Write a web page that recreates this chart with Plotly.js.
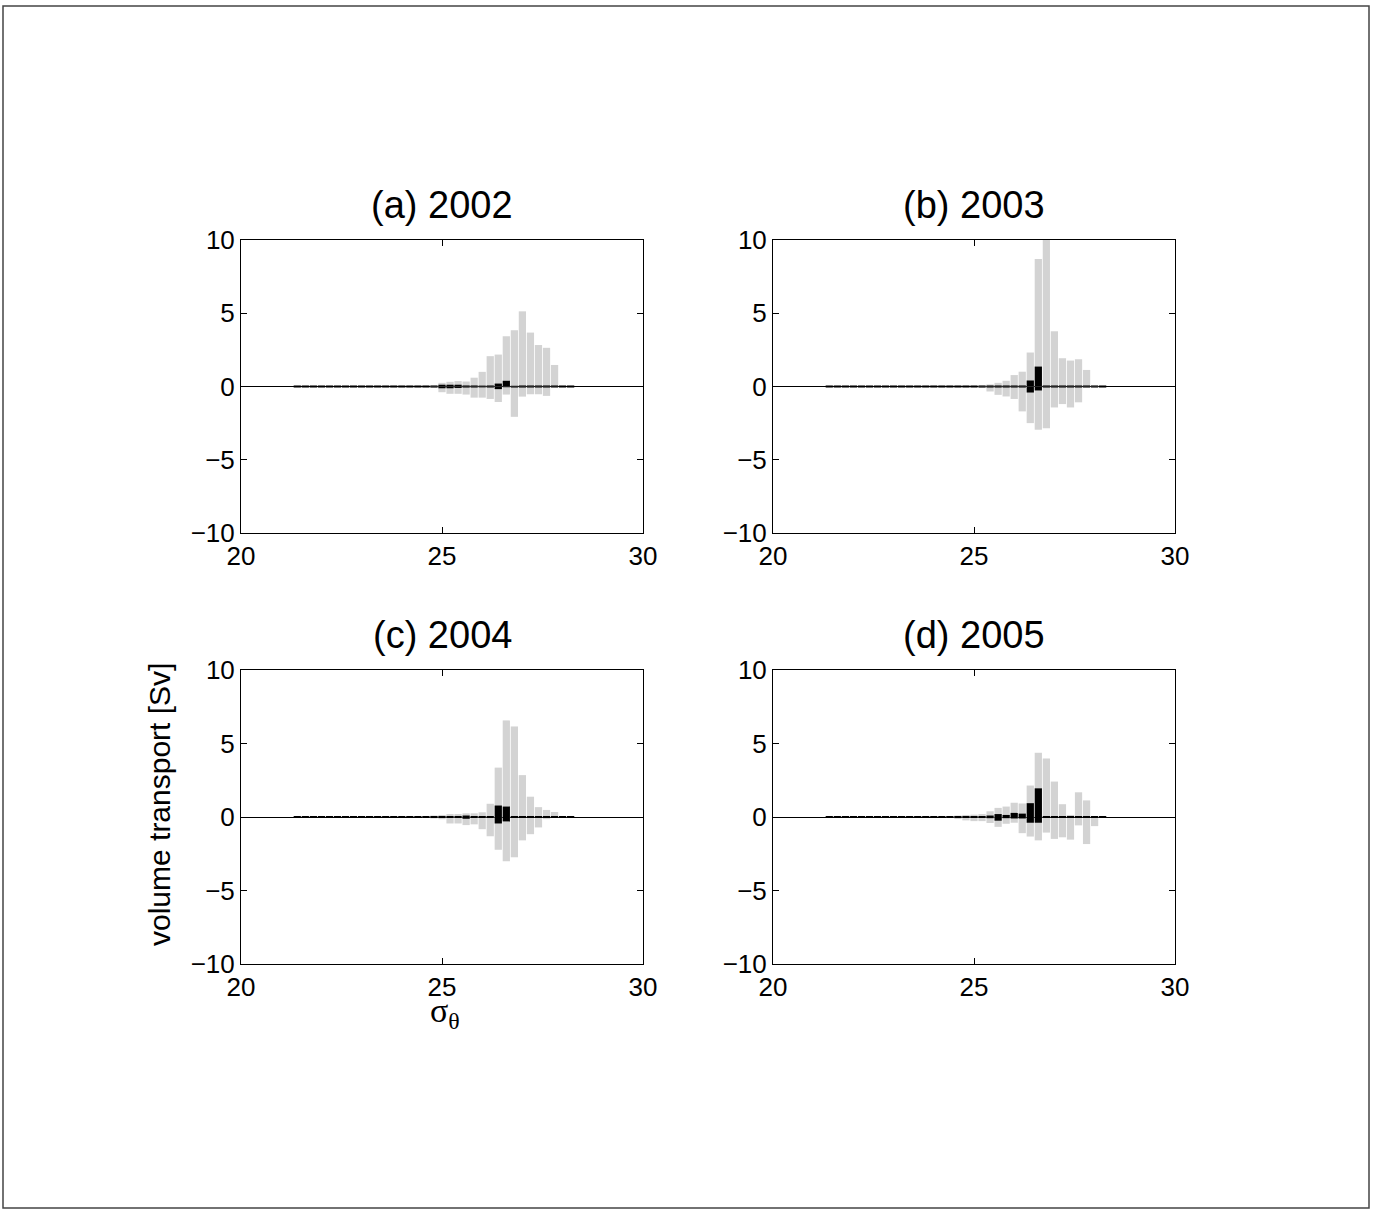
<!DOCTYPE html>
<html>
<head>
<meta charset="utf-8">
<script src="https://cdn.plot.ly/plotly-3.0.1.min.js"></script>
<style>html,body{margin:0;padding:0;background:#fff;}#chart{width:1373px;height:1211px;}</style>
</head>
<body>
<div id="chart"></div>
<script>
// density bins (sigma_theta), bin width 0.2
const sigmaBins = [21.4,21.6,21.8,22.0,22.2,22.4,22.6,22.8,23.0,23.2,23.4,23.6,23.8,24.0,24.2,24.4,24.6,24.8,25.0,25.2,25.4,25.6,25.8,26.0,26.2,26.4,26.6,26.8,27.0,27.2,27.4,27.6,27.8,28.0,28.2];

const panelTitles = ["(a) 2002","(b) 2003","(c) 2004","(d) 2005"];
const xTicks = [20,25,30];
const yTicks = [-10,-5,0,5,10];

// (a) 2002
const grayPos2002 = [0,0,0,0,0,0,0,0,0,0,0,0,0,0,0,0,0,0.05,0.25,0.32,0.37,0.34,0.6,1.0,2.07,2.18,3.43,3.84,5.13,3.68,2.83,2.64,1.47,0,0];
const grayNeg2002 = [0,0,0,0,0,0,0,0,0,0,0,0,0,0,0,0,0,-0.08,-0.39,-0.5,-0.5,-0.55,-0.76,-0.76,-0.85,-1.06,-0.55,-2.07,-0.69,-0.53,-0.53,-0.64,0,0,0];
const blackPos2002 = [0.07,0.07,0.07,0.07,0.07,0.07,0.07,0.07,0.07,0.07,0.07,0.07,0.07,0.07,0.07,0.07,0.07,0.07,0.12,0.12,0.12,0.07,0.07,0.06,0.07,0.2,0.39,0.05,0.07,0.07,0.07,0.07,0.07,0.07,0.07];
const blackNeg2002 = [-0.07,-0.07,-0.07,-0.07,-0.07,-0.07,-0.07,-0.07,-0.07,-0.07,-0.07,-0.07,-0.07,-0.07,-0.07,-0.07,-0.07,-0.07,-0.12,-0.12,-0.1,-0.07,-0.07,-0.06,-0.07,-0.18,-0.05,-0.07,-0.07,-0.07,-0.07,-0.07,-0.07,-0.07,-0.07];

// (b) 2003
const grayPos2003 = [0,0,0,0,0,0,0,0,0,0,0,0,0,0,0,0,0,0,0,0.05,0.14,0.25,0.39,0.78,1.01,2.32,8.71,10.5,3.77,1.93,1.77,1.86,1.13,0.05,0];
const grayNeg2003 = [0,0,0,0,0,0,0,0,0,0,0,0,0,0,0,0,0,0,0,-0.08,-0.34,-0.57,-0.68,-0.85,-1.7,-2.5,-2.95,-2.85,-1.43,-1.2,-1.43,-1.08,-0.05,-0.05,0];
const blackPos2003 = [0.07,0.07,0.07,0.07,0.07,0.07,0.07,0.07,0.07,0.07,0.07,0.07,0.07,0.07,0.07,0.07,0.07,0.07,0.07,0.07,0.07,0.07,0.07,0.07,0.07,0.41,1.36,0.07,0.07,0.07,0.07,0.07,0.07,0.07,0.07];
const blackNeg2003 = [-0.07,-0.07,-0.07,-0.07,-0.07,-0.07,-0.07,-0.07,-0.07,-0.07,-0.07,-0.07,-0.07,-0.07,-0.07,-0.07,-0.07,-0.07,-0.07,-0.07,-0.07,-0.07,-0.07,-0.07,-0.07,-0.41,-0.27,-0.07,-0.07,-0.07,-0.07,-0.07,-0.07,-0.07,-0.07];

// (c) 2004
const grayPos2004 = [0,0,0,0,0,0,0,0,0,0,0,0,0,0,0,0,0.05,0.1,0.14,0.2,0.2,0.25,0.25,0.32,0.9,3.36,6.57,6.16,2.85,1.38,0.67,0.48,0.34,0.05,0];
const grayNeg2004 = [0,0,0,0,0,0,0,0,0,0,0,0,0,0,0,0,-0.05,-0.1,-0.15,-0.44,-0.44,-0.55,-0.5,-0.83,-1.31,-2.23,-3.01,-2.74,-1.59,-1.17,-0.71,-0.15,-0.05,-0.05,0];
const blackPos2004 = [0.07,0.07,0.07,0.07,0.07,0.07,0.07,0.07,0.07,0.07,0.07,0.07,0.07,0.07,0.07,0.07,0.07,0.07,0.07,0.07,0.07,0.1,0.07,0.07,0.07,0.78,0.71,0.07,0.07,0.07,0.07,0.07,0.07,0.07,0.07];
const blackNeg2004 = [-0.07,-0.07,-0.07,-0.07,-0.07,-0.07,-0.07,-0.07,-0.07,-0.07,-0.07,-0.07,-0.07,-0.07,-0.07,-0.07,-0.07,-0.07,-0.07,-0.07,-0.07,-0.12,-0.07,-0.07,-0.07,-0.44,-0.3,-0.07,-0.07,-0.07,-0.07,-0.07,-0.07,-0.07,-0.07];

// (d) 2005
const grayPos2005 = [0,0,0,0,0,0,0,0,0,0,0,0,0,0,0,0.05,0.1,0.14,0.16,0.2,0.39,0.62,0.71,0.97,0.92,2.14,4.37,3.98,2.41,0.87,0.14,1.68,1.13,0.05,0];
const grayNeg2005 = [0,0,0,0,0,0,0,0,0,0,0,0,0,0,0,-0.05,-0.14,-0.23,-0.28,-0.28,-0.41,-0.67,-0.46,-0.39,-1.1,-1.33,-1.59,-1.06,-1.49,-1.38,-1.54,-0.57,-1.84,-0.62,0];
const blackPos2005 = [0.07,0.07,0.07,0.07,0.07,0.07,0.07,0.07,0.07,0.07,0.07,0.07,0.07,0.07,0.07,0.07,0.07,0.07,0.07,0.07,0.1,0.2,0.14,0.28,0.23,0.94,1.95,0.07,0.07,0.07,0.07,0.07,0.07,0.07,0.07];
const blackNeg2005 = [-0.07,-0.07,-0.07,-0.07,-0.07,-0.07,-0.07,-0.07,-0.07,-0.07,-0.07,-0.07,-0.07,-0.07,-0.07,-0.07,-0.07,-0.07,-0.07,-0.07,-0.08,-0.25,-0.08,-0.1,-0.1,-0.39,-0.39,-0.07,-0.07,-0.07,-0.07,-0.07,-0.07,-0.07,-0.07];

const W = 1373, H = 1211;
const FONT = "Liberation Sans, Arial, Helvetica, sans-serif";
const GRAY = "#d3d3d3";

const panels = [
  {gp: grayPos2002, gn: grayNeg2002, bp: blackPos2002, bn: blackNeg2002, px:[241,643], py:[240,533]},
  {gp: grayPos2003, gn: grayNeg2003, bp: blackPos2003, bn: blackNeg2003, px:[773,1175], py:[240,533]},
  {gp: grayPos2004, gn: grayNeg2004, bp: blackPos2004, bn: blackNeg2004, px:[241,643], py:[670,964]},
  {gp: grayPos2005, gn: grayNeg2005, bp: blackPos2005, bn: blackNeg2005, px:[773,1175], py:[670,964]}
];

const data = [];
const layout = {
  width: W, height: H,
  margin: {l:0, r:0, t:0, b:0, autoexpand:false},
  paper_bgcolor: "#fff", plot_bgcolor: "#fff",
  showlegend: false,
  barmode: "overlay",
  bargap: 0.1,
  font: {family: FONT, size: 26, color: "#000"},
  annotations: [],
  shapes: [
    {type:"rect", xref:"paper", yref:"paper", x0:3/W, x1:1369/W, y0:1-1208/H, y1:1-6/H,
     line:{color:"#444", width:1.5}, fillcolor:"rgba(0,0,0,0)", layer:"below"}
  ]
};

panels.forEach((p, i) => {
  const n = i === 0 ? "" : String(i+1);
  const xa = "x"+n, ya = "y"+n;
  const mk = (vals, color) => ({
    type: "bar", x: sigmaBins, y: vals, xaxis: xa, yaxis: ya,
    marker: {color: color, line: {width: 0}}, hoverinfo: "skip"
  });
  data.push(mk(p.gp, GRAY), mk(p.gn, GRAY), mk(p.bp, "#000"), mk(p.bn, "#000"));

  const axCommon = {
    showline: true, linecolor: "#000", linewidth: 1, mirror: "ticks",
    ticks: "inside", ticklen: 6, tickwidth: 1, tickcolor: "#000",
    showgrid: false, fixedrange: true,
    tickfont: {family: FONT, size: 26, color: "#000"}
  };
  layout["xaxis"+n] = Object.assign({}, axCommon, {
    anchor: ya, domain: [p.px[0]/W, p.px[1]/W], range: [20,30],
    tickmode: "array", tickvals: xTicks, ticktext: xTicks.map(String), zeroline: false
  });
  layout["yaxis"+n] = Object.assign({}, axCommon, {
    anchor: xa, domain: [1-p.py[1]/H, 1-p.py[0]/H], range: [-10,10],
    tickmode: "array", tickvals: yTicks, ticktext: yTicks.map(v => v < 0 ? "\u2212"+Math.abs(v) : String(v)),
    zeroline: true, zerolinecolor: "#000", zerolinewidth: 1
  });
  layout.annotations.push({
    xref:"paper", yref:"paper", x: (p.px[0]+p.px[1])/2/W, y: 1-(p.py[0]-35)/H,
    xanchor:"center", yanchor:"middle", showarrow:false, text: panelTitles[i],
    font:{family: FONT, size: 38, color:"#000"}
  });
});

layout.annotations.push({
  xref:"paper", yref:"paper", x: 160/W, y: 1-805/H, xanchor:"center", yanchor:"middle",
  showarrow:false, textangle:-90, text:"volume transport [Sv]",
  font:{family: FONT, size: 30, color:"#000"}
});
layout.annotations.push({
  xref:"paper", yref:"paper", x: 445/W, y: 1-1013/H, xanchor:"center", yanchor:"middle",
  showarrow:false, text:"σ<sub>θ</sub>",
  font:{family: "Liberation Serif, Times New Roman, serif", size: 34, color:"#000"}
});

Plotly.newPlot("chart", data, layout, {staticPlot: true, displayModeBar: false});
</script>
</body>
</html>
